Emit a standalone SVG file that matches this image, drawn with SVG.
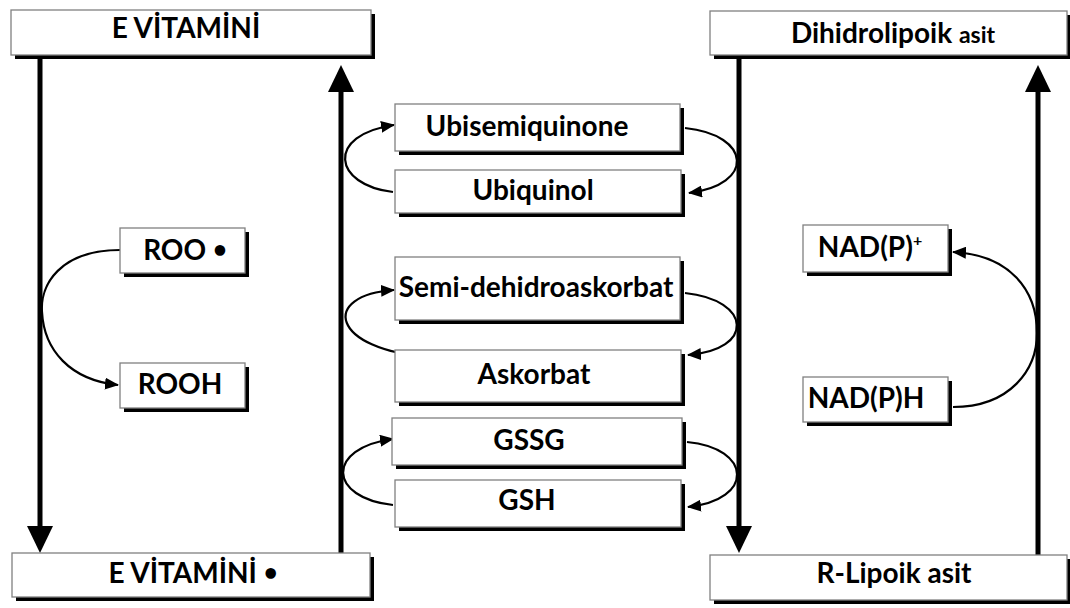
<svg xmlns="http://www.w3.org/2000/svg" width="1070" height="608" viewBox="0 0 1070 608">
  <style>
    .box { fill: #ffffff; stroke: #808080; stroke-width: 1.3; }
    .shadow { fill: #000000; }
    .lbl { font-family: Lato, "Open Sans", "DejaVu Sans", sans-serif; font-weight: 700; font-size: 28px; fill: #000000; text-anchor: middle; }
    .dot { font-size: 24px; }
    .axis { stroke: #000000; stroke-width: 5; fill: none; }
    .cycle { stroke: #000000; stroke-width: 2.2; fill: none; marker-end: url(#tip); }
    .head { fill: #000000; }
  </style>
  <defs>
    <marker id="tip" markerUnits="userSpaceOnUse" markerWidth="14" markerHeight="12" refX="13" refY="6" orient="auto">
      <path d="M0,0 L14,6 L0,12 Z" fill="#000000"/>
    </marker>
  </defs>

  <!-- connectors -->
  <g id="connectors">
    <!-- main vertical transfers -->
    <line class="axis" x1="40" y1="58" x2="40" y2="528"/>
    <polygon class="head" points="27,526 53,526 40,553"/>
    <line class="axis" x1="341" y1="553" x2="341" y2="90"/>
    <polygon class="head" points="328,92 354,92 341,65"/>
    <line class="axis" x1="739" y1="58" x2="739" y2="528"/>
    <polygon class="head" points="726,526 752,526 739,553"/>
    <line class="axis" x1="1038" y1="555" x2="1038" y2="90"/>
    <polygon class="head" points="1025,92 1051,92 1038,65"/>

    <!-- redox cycles -->
    <path class="cycle" d="M393,192 C333,185 325,135 394,125"/>
    <path class="cycle" d="M685,128 C752,135 755,185 689,193"/>
    <path class="cycle" d="M430,357 C330,350 320,295 394,290"/>
    <path class="cycle" d="M685,293 C752,300 755,350 688,355"/>
    <path class="cycle" d="M393,505 C328,498 325,448 393,439"/>
    <path class="cycle" d="M687,442 C752,448 755,500 688,507"/>
    <path class="cycle" d="M120,250 C60,250 40,285 42,312 C44,350 70,380 118,385"/>
    <path class="cycle" d="M953,407 C1010,407 1037,370 1037,333 C1037,290 1010,255 953,252"/>
  </g>

  <g id="vitE">
    <rect class="shadow" x="15" y="14" width="360" height="45"/>
    <rect class="box" x="11" y="10" width="360" height="45"/>
    <text class="lbl" x="186" y="38">E VİTAMİNİ</text>
  </g>
  <g id="dihidrolipoik">
    <rect class="shadow" x="714" y="15" width="357" height="44"/>
    <rect class="box" x="710" y="11" width="357" height="44"/>
    <text class="lbl" x="893" y="43">Dihidrolipoik <tspan font-size="23">asit</tspan></text>
  </g>
  <g id="ubisemiquinone">
    <rect class="shadow" x="399" y="108" width="285" height="47"/>
    <rect class="box" x="395" y="104" width="285" height="47"/>
    <text class="lbl" x="527" y="136">Ubisemiquinone</text>
  </g>
  <g id="ubiquinol">
    <rect class="shadow" x="399" y="174" width="286" height="43"/>
    <rect class="box" x="395" y="170" width="286" height="43"/>
    <text class="lbl" x="533" y="200">Ubiquinol</text>
  </g>
  <g id="semidehidroaskorbat">
    <rect class="shadow" x="399" y="261" width="285" height="63"/>
    <rect class="box" x="395" y="257" width="285" height="63"/>
    <text class="lbl" x="536" y="297">Semi-dehidroaskorbat</text>
  </g>
  <g id="askorbat">
    <rect class="shadow" x="399" y="354" width="286" height="52"/>
    <rect class="box" x="395" y="350" width="286" height="52"/>
    <text class="lbl" x="534" y="384">Askorbat</text>
  </g>
  <g id="gssg">
    <rect class="shadow" x="396" y="422" width="290" height="47"/>
    <rect class="box" x="392" y="418" width="290" height="47"/>
    <text class="lbl" x="529" y="450">GSSG</text>
  </g>
  <g id="gsh">
    <rect class="shadow" x="399" y="484" width="286" height="47"/>
    <rect class="box" x="395" y="480" width="286" height="47"/>
    <text class="lbl" x="527" y="510">GSH</text>
  </g>
  <g id="roo">
    <rect class="shadow" x="124" y="232" width="125" height="45"/>
    <rect class="box" x="120" y="228" width="125" height="45"/>
    <text class="lbl" x="185" y="260">ROO <tspan class="dot" dy="-2">•</tspan></text>
  </g>
  <g id="rooh">
    <rect class="shadow" x="124" y="367" width="125" height="45"/>
    <rect class="box" x="120" y="363" width="125" height="45"/>
    <text class="lbl" x="180" y="394">ROOH</text>
  </g>
  <g id="nadp">
    <rect class="shadow" x="807" y="229" width="145" height="47"/>
    <rect class="box" x="803" y="225" width="145" height="47"/>
    <text class="lbl" x="870" y="257">NAD(P)<tspan font-size="16" dy="-11">+</tspan></text>
  </g>
  <g id="nadph">
    <rect class="shadow" x="807" y="381" width="145" height="45"/>
    <rect class="box" x="803" y="377" width="145" height="45"/>
    <text class="lbl" x="866" y="408">NAD(P)H</text>
  </g>
  <g id="vitE-radical">
    <rect class="shadow" x="16" y="557" width="358" height="44"/>
    <rect class="box" x="12" y="553" width="358" height="44"/>
    <text class="lbl" x="193" y="583">E VİTAMİNİ <tspan class="dot" dy="-2">•</tspan></text>
  </g>
  <g id="lipoik">
    <rect class="shadow" x="714" y="559" width="357" height="45"/>
    <rect class="box" x="710" y="555" width="357" height="45"/>
    <text class="lbl" x="894" y="583">R-Lipoik asit</text>
  </g>
</svg>
